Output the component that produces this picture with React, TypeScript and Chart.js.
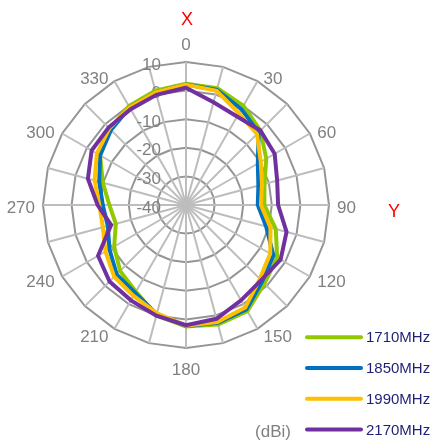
import { useEffect, useRef } from "react";
import { Chart, registerables } from "chart.js";

Chart.register(...registerables);

const ANGLES = [0, 15, 30, 45, 60, 75, 90, 105, 120, 135, 150, 165, 180, 195, 210, 225, 240, 255, 270, 285, 300, 315, 330, 345];
const TICKS = [10, 0, -10, -20, -30, -40];

const SERIES_NAMES = ["1710MHz", "1850MHz", "1990MHz", "2170MHz"];
const SERIES_COLORS = ["#92C800", "#0070C0", "#FFC000", "#7030A0"];

const GAIN_1710 = [2.4, 2.3, 0.1, -3.2, -7.6, -11.6, -12.6, -7.5, -3.2, -1.2, 2.9, 3.3, 2.5, 0, -5, -7.4, -11, -14.6, -13.2, -9.9, -5.3, -2.3, -0.1, 1.4];
const GAIN_1850 = [2.1, 1.7, -1.3, -4.1, -11, -13.8, -14.9, -11, -4.7, -2.3, 2.2, 2.6, 2.3, -0.5, -4.5, -5.7, -9.1, -11.7, -10.9, -8.6, -5.3, -2.9, -0.6, 0.8];
const GAIN_1990 = [2.1, 1.3, -3, -4.9, -9.8, -12.5, -13.8, -9.4, -6, -3.5, 1.4, 2.4, 2.2, -0.8, -3.3, -4.5, -7.5, -9.9, -9.7, -6.9, -4, -2.1, -0.6, 0.8];
const GAIN_2170 = [1, -2.8, -4.3, -3.2, -4.2, -7, -7.8, -3.6, -1.8, -2.8, -1.5, 1.2, 2, 0.1, -1.5, -2.2, -4.5, -12.9, -9.1, -4.5, -1.9, -1.7, -1.3, -0.1];

const SERIES_VALUES = [GAIN_1710, GAIN_1850, GAIN_1990, GAIN_2170];

const AXIS_X = "X";
const AXIS_Y = "Y";
const UNIT = "(dBi)";

const FONT = '"Liberation Sans", Arial, sans-serif';
const GRAY = "#808080";
const NAVY = "#1F1F75";

const decor = {
  id: "decor",
  beforeDatasetsDraw(chart: any) {
    const s = chart.scales.r;
    const ctx = chart.ctx as CanvasRenderingContext2D;
    ctx.save();
    ctx.font = `17px ${FONT}`;
    ctx.fillStyle = GRAY;
    // radial tick labels
    ctx.textAlign = "right";
    ctx.textBaseline = "middle";
    TICKS.forEach((v) => {
      const d = s.getDistanceFromCenterForValue(v);
      ctx.fillText(String(v), s.xCenter - 25, s.yCenter - d + 3);
    });
    // angle labels every 30 degrees
    ctx.textAlign = "center";
    ANGLES.forEach((a, i) => {
      if (a % 30 !== 0) return;
      const p = s.getPointPosition(i, s.drawingArea);
      const txt = String(a);
      const w = ctx.measureText(txt).width;
      const rad = (a * Math.PI) / 180;
      const sn = Math.sin(rad);
      const cs = Math.cos(rad);
      let ox = 0;
      let oy = 0;
      if (Math.abs(sn) < 0.01) {
        oy = cs > 0 ? -17 : 22;
      } else {
        ox = Math.sign(sn) * (w / 2 + 4 + 4 * Math.abs(sn));
        oy = 3 - 6 * cs;
      }
      ctx.fillText(txt, p.x + ox, p.y + oy);
    });
    ctx.restore();
  },
  afterDraw(chart: any) {
    const s = chart.scales.r;
    const ctx = chart.ctx as CanvasRenderingContext2D;
    ctx.save();
    // axis names
    ctx.fillStyle = "#FF0000";
    ctx.font = `18px ${FONT}`;
    ctx.textAlign = "center";
    ctx.textBaseline = "middle";
    ctx.fillText(AXIS_X, s.xCenter + 1, s.yCenter - 185);
    ctx.fillText(AXIS_Y, s.xCenter + 208, s.yCenter + 7);
    // unit
    ctx.fillStyle = GRAY;
    ctx.font = `17px ${FONT}`;
    ctx.fillText(UNIT, s.xCenter + 87, s.yCenter + 227);
    // legend
    const lx = s.xCenter + 121;
    const ly = s.yCenter + 132.3;
    SERIES_NAMES.forEach((name, i) => {
      const y = ly + i * 30.7;
      ctx.strokeStyle = SERIES_COLORS[i];
      ctx.lineWidth = 4;
      ctx.lineCap = "round";
      ctx.beginPath();
      ctx.moveTo(lx, y);
      ctx.lineTo(lx + 54, y);
      ctx.stroke();
      ctx.fillStyle = NAVY;
      ctx.font = `15px ${FONT}`;
      ctx.textAlign = "left";
      ctx.textBaseline = "middle";
      ctx.fillText(name, lx + 59, y + 1);
    });
    ctx.restore();
  },
};

export default function App() {
  const ref = useRef<HTMLCanvasElement>(null);
  useEffect(() => {
    const chart = new Chart(ref.current!, {
      type: "radar",
      data: {
        labels: ANGLES.map(String),
        datasets: SERIES_NAMES.map((name, i) => ({
          label: name,
          data: SERIES_VALUES[i],
          borderColor: SERIES_COLORS[i],
          backgroundColor: SERIES_COLORS[i],
          borderWidth: 4,
          pointRadius: 0,
          pointHoverRadius: 0,
          fill: false,
          tension: 0,
          order: SERIES_NAMES.length - i,
        })),
      },
      options: {
        animation: false,
        responsive: true,
        maintainAspectRatio: false,
        layout: { padding: { left: 43, right: 104, top: 62, bottom: 99 } },
        plugins: { legend: { display: false }, tooltip: { enabled: false } },
        scales: {
          r: {
            min: -40,
            max: 10,
            ticks: { stepSize: 10, display: false },
            pointLabels: { display: false },
            grid: { color: "#959595", lineWidth: 2, circular: false },
            angleLines: { color: "#BDBDBD", lineWidth: 2 },
          },
        },
      },
      plugins: [decor],
    });
    return () => chart.destroy();
  }, []);
  return (
    <div style={{ position: "fixed", left: 0, top: 0, width: 433, height: 447, background: "#fff" }}>
      <canvas ref={ref} />
    </div>
  );
}
